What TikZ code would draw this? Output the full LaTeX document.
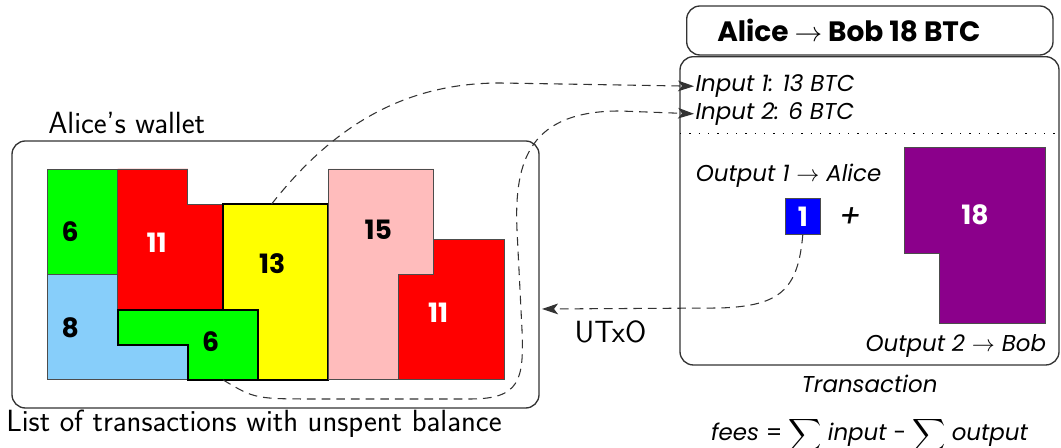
\documentclass[tikz,border=0pt]{standalone}
\usepackage{fontspec}
\usepackage{amsmath}
\setmainfont{Poppins}
\usetikzlibrary{arrows.meta,positioning}

\definecolor{coingreen}{RGB}{0,255,0}
\definecolor{coinred}{RGB}{255,0,0}
\definecolor{coinyellow}{RGB}{255,255,0}
\definecolor{coinsky}{RGB}{135,206,250}
\definecolor{coinpink}{RGB}{255,188,188}
\definecolor{coinblue}{RGB}{0,0,255}
\definecolor{coinpurple}{RGB}{139,0,139}

\tikzset{
  box/.style={draw=black!80, line width=1pt, rounded corners=10pt, inner sep=0pt},
  coin/.style={draw=black!70, line width=0.7pt},
  spent/.style={draw=black, line width=1.5pt},
  num/.style={font=\fontsize{20}{20}\selectfont\bfseries, inner sep=0pt},
  txtext/.style={font=\fontsize{17.2}{20}\selectfont, inner sep=1pt},
  walltext/.style={font=\fontsize{23}{26}\selectfont\sffamily, inner sep=0pt},
  flow/.style={draw=black!80, line width=0.8pt, dash pattern=on 6.5pt off 4.5pt,
    -{Stealth[length=12pt,width=8pt,inset=3pt]}},
}

\begin{document}
\begin{tikzpicture}[x=0.75pt,y=-0.75pt]
    \useasboundingbox (0,0) rectangle (1061,448);

    % wallet
    \node (wallet) [box, minimum width=395.25pt, minimum height=200.25pt] at (275.5,274.5) {};
    \node (wname) [walltext, anchor=base west] at (48,134) {Alice's wallet};
    \node (wlist) [walltext, anchor=base west] at (6,432) {List of transactions with unspent balance};

    \begin{scope}[shift={(47.3,169)}, x=26.36pt, y=-26.36pt]
    \draw[coin, fill=coingreen] (0,0) -- (2,0) -- (2,3) -- (0,3) -- cycle;
    \draw[coin, fill=coinsky] (0,3) -- (2,3) -- (2,5) -- (4,5) -- (4,6) -- (0,6) -- cycle;
    \draw[coin, fill=coinred] (2,0) -- (4,0) -- (4,1) -- (5,1) -- (5,4) -- (2,4) -- cycle;
    \draw[spent, fill=coinyellow] (5,1) rectangle (8,6);
    \draw[spent, fill=coingreen] (2,4) -- (6,4) -- (6,6) -- (4,6) -- (4,5) -- (2,5) -- cycle;
    \draw[coin, fill=coinpink] (8,0) -- (11,0) -- (11,3) -- (10,3) -- (10,6) -- (8,6) -- cycle;
    \draw[coin, fill=coinred] (11,2) -- (13,2) -- (13,6) -- (10,6) -- (10,3) -- (11,3) -- cycle;
    \node (c6a) [num] at (0.65,1.78) {6};
    \node (c11a) [num, text=white] at (3.11,2.11) {11};
    \node (c13) [num] at (6.4,2.7) {13};
    \node (c8) [num] at (0.65,4.53) {8};
    \node (c6b) [num] at (4.65,4.91) {6};
    \node (c15) [num] at (9.42,1.74) {15};
    \node (c11b) [num, text=white] at (11.12,4.1) {11};
    \coordinate (from13) at (6.38,1);
    \coordinate (from6) at (5.0,6);
    \end{scope}

    % transaction
    \draw[box] (686.7,6) rectangle (1053,55);
    \node (title) [txtext, anchor=base west, font=\fontsize{21}{24}\selectfont\bfseries] at (715.7,41.7)
      {Alice $\rightarrow$ Bob 18 BTC};
    \node (tx) [box, minimum width=284.25pt, minimum height=231.2pt] at (869.5,210.85) {};
    \draw[line width=1pt, dash pattern=on 1pt off 6pt] (680,133.3) -- (1059,133.3);

    \node (in1) [txtext, anchor=base west] at (694,91.7) {\itshape Input 1: 13 BTC};
    \node (in2) [txtext, anchor=base west] at (694,119.3) {\itshape Input 2: 6 BTC};
    \node (out1name) [txtext, anchor=base west] at (694.3,181.7) {\itshape Output 1 $\rightarrow$ Alice};
    \node (out1) [coin, fill=coinblue, minimum size=26.6pt, num, text=white] at (802.8,216.5) {1};
    \node (plus) [txtext, font=\fontsize{24}{24}\selectfont] at (850,218) {\itshape +};

    \begin{scope}[shift={(904.3,147.3)}, x=26.5pt, y=-26.5pt]
    \draw[coin, fill=coinpurple] (0,0) -- (4,0) -- (4,5) -- (1,5) -- (1,3) -- (0,3) -- cycle;
    \node (c18) [num, text=white] at (2,1.92) {18};
    \end{scope}
    \node (out2name) [txtext, anchor=base east] at (1047.7,351.7) {\itshape Output 2 $\rightarrow$ Bob};

    \node (txname) [txtext, anchor=base] at (869.5,393) {\itshape Transaction};
    \node (fees) [txtext, anchor=base] at (869.5,441)
      {\itshape fees\/ \upshape= \smash{$\displaystyle\sum$} \itshape input \upshape- \smash{$\displaystyle\sum$} \itshape output};

    % spent and unspent outputs
    \coordinate (utxotip) at (542,309);
    \draw[flow] (from13) .. controls (330,130) and (400,83) .. (500,83) -- (in1.west);
    \draw[flow] (from6) .. controls (255,399) .. (320,399) -- (470,399)
      .. controls (520,399) and (524,380) .. (522,330) -- (517,230)
      .. controls (514,160) and (530,111) .. (620,111) -- (in2.west);
    \draw[flow] (out1.south) .. controls (798,290) and (780,306) .. (720,308) -- (utxotip);
    \node (utxo) [walltext, anchor=base] at (610.5,343) {UTxO};

\end{tikzpicture}
\end{document}
